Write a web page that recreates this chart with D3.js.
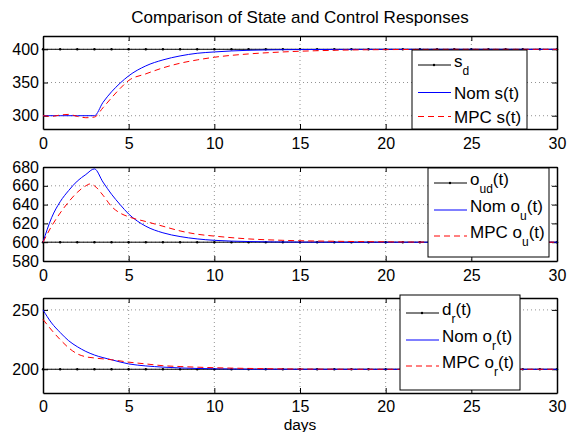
<!DOCTYPE html>
<html>
<head>
<meta charset="utf-8">
<script src="https://cdn.jsdelivr.net/npm/d3@7"></script>
<style>
  body { margin: 0; background: #fff; }
  svg text { font-family: "Liberation Sans", Arial, sans-serif; fill: #000; }
</style>
</head>
<body>
<div id="chart"></div>
<script>
// values, t in days
var tRef = d3.range(0, 31, 1);

var sNomT = [0, 1, 2, 3, 3.5, 4, 4.5, 5, 6, 7, 8, 9, 10, 12, 15, 20, 25, 30];
var sNomV = [300, 300, 300, 300, 320, 336, 349, 360, 375, 384, 390, 394, 396, 398.5, 399.6, 400, 400, 400];
var sMpcT = [0, 0.5, 1, 1.5, 2, 2.5, 3, 3.5, 4, 4.5, 5, 6, 7, 8, 9, 10, 12, 14, 17, 20, 25, 30];
var sMpcV = [300, 299, 301, 302, 299, 297, 298, 312, 327, 341, 353, 363, 372, 379, 384, 388, 393, 396, 398.5, 399.5, 400, 400];

var uNomT = [0, 0.5, 1, 1.5, 2, 2.5, 3, 3.5, 4, 4.5, 5, 6, 7, 8, 9, 10, 12, 15, 20, 25, 30];
var uNomV = [600, 626, 643, 655, 665, 672, 678, 664, 651, 640, 630, 617, 610, 606, 603.5, 602, 600.7, 600.1, 600, 600, 600];
var uMpcT = [0, 0.5, 1, 1.5, 2, 2.5, 2.75, 3, 3.5, 4, 4.5, 5, 6, 7, 8, 9, 10, 12, 14, 17, 20, 25, 30];
var uMpcV = [600, 617, 631, 643, 653, 660, 662, 660, 650, 638, 631, 627, 622, 617, 612, 608.5, 606.5, 603.5, 602, 601, 600.4, 600, 600];

var rNomT = [0, 0.5, 1, 1.5, 2, 2.5, 3, 4, 5, 6, 7, 8, 10, 12, 15, 20, 25, 30];
var rNomV = [250, 239, 231, 224, 219, 215, 212, 208, 204.5, 202.8, 201.8, 201.1, 200.4, 200.1, 200, 200, 200, 200];
var rMpcT = [0, 0.5, 1, 1.5, 2, 2.5, 3, 4, 5, 6, 7, 8, 10, 12, 15, 20, 25, 30];
var rMpcV = [242, 233, 225, 218, 213, 210.5, 209.5, 208, 206, 204.5, 203, 202.3, 201.3, 200.7, 200.2, 200, 200, 200];

var xTicks = [0, 5, 10, 15, 20, 25, 30];

var panels = [
  { top: 36, bottom: 129, domain: [280, 420], ticks: [300, 350, 400], ref: 400,
    nom: [sNomT, sNomV], mpc: [sMpcT, sMpcV],
    labels: [["s", "d", ""], ["Nom s(t)", "", ""], ["MPC s(t)", "", ""]],
    legend: { x: 412, y: 50, w: 115, h: 79, rows: [65, 92.5, 116.5] } },
  { top: 167, bottom: 261, domain: [580, 680], ticks: [580, 600, 620, 640, 660, 680], ref: 600,
    nom: [uNomT, uNomV], mpc: [uMpcT, uMpcV],
    labels: [["o", "ud", "(t)"], ["Nom o", "u", "(t)"], ["MPC o", "u", "(t)"]],
    legend: { x: 428, y: 168, w: 121, h: 89, rows: [183, 210, 236] } },
  { top: 298, bottom: 393, domain: [180, 260], ticks: [200, 250], ref: 200,
    nom: [rNomT, rNomV], mpc: [rMpcT, rMpcV],
    labels: [["d", "r", "(t)"], ["Nom o", "r", "(t)"], ["MPC o", "r", "(t)"]],
    legend: { x: 400, y: 295, w: 120, h: 95, rows: [313, 340, 366] } }
];

var width = 567, height = 432;
var left = 43, right = 557;

var svg = d3.select("#chart").append("svg")
  .attr("width", width)
  .attr("height", height);

var x = d3.scaleLinear().domain([0, 30]).range([left, right]);

svg.append("text")
  .attr("x", 300).attr("y", 22.5)
  .attr("text-anchor", "middle")
  .style("font-size", "17px")
  .text("Comparison of State and Control Responses");

panels.forEach(function (p, pi) {
  var y = d3.scaleLinear().domain(p.domain).range([p.bottom, p.top]);
  var g = svg.append("g");

  // dotted grid
  g.selectAll(".gx").data(xTicks.slice(1, -1)).enter().append("line")
    .attr("x1", d => x(d)).attr("x2", d => x(d))
    .attr("y1", p.top).attr("y2", p.bottom)
    .attr("stroke", "#777").attr("stroke-width", 0.8).attr("stroke-dasharray", "1,3");
  g.selectAll(".gy").data(p.ticks.filter(d => d > p.domain[0] && d < p.domain[1])).enter().append("line")
    .attr("x1", left).attr("x2", right)
    .attr("y1", d => y(d)).attr("y2", d => y(d))
    .attr("stroke", "#777").attr("stroke-width", 0.8).attr("stroke-dasharray", "1,3");

  // axes with inward ticks, box on
  var ax = [
    [d3.axisBottom(x).tickValues(xTicks).tickSizeInner(-5).tickSizeOuter(0).tickPadding(pi === 2 ? 8 : 9), "translate(0," + p.bottom + ")"],
    [d3.axisTop(x).tickValues(xTicks).tickSizeInner(-5).tickSizeOuter(0).tickFormat(""), "translate(0," + p.top + ")"],
    [d3.axisLeft(y).tickValues(p.ticks).tickSizeInner(-5).tickSizeOuter(0).tickPadding(4), "translate(" + left + ",0)"],
    [d3.axisRight(y).tickValues(p.ticks).tickSizeInner(-5).tickSizeOuter(0).tickFormat(""), "translate(" + right + ",0)"]
  ];
  ax.forEach(function (a) {
    var ag = g.append("g").attr("transform", a[1]).call(a[0]);
    ag.select(".domain").attr("stroke", "#000").attr("stroke-width", 1.5);
    ag.selectAll(".tick line").attr("stroke", "#000");
    ag.selectAll("text").style("font-size", "16px").style("font-family", "Liberation Sans, Arial, sans-serif");
  });

  var line = d3.line().x(d => x(d[0])).y(d => y(d[1])).curve(d3.curveMonotoneX);

  // reference (black, dot markers)
  var refData = tRef.map(t => [t, p.ref]);
  g.append("path").datum(refData).attr("d", line)
    .attr("fill", "none").attr("stroke", "#000").attr("stroke-width", 1);
  g.selectAll(".mk").data(refData).enter().append("circle")
    .attr("cx", d => x(d[0])).attr("cy", d => y(d[1])).attr("r", 1.2).attr("fill", "#000");

  g.append("path").datum(d3.zip(p.nom[0], p.nom[1])).attr("d", line)
    .attr("fill", "none").attr("stroke", "#0000ff").attr("stroke-width", 1);
  g.append("path").datum(d3.zip(p.mpc[0], p.mpc[1])).attr("d", line)
    .attr("fill", "none").attr("stroke", "#ff0000").attr("stroke-width", 1)
    .attr("stroke-dasharray", "6,4");

  // legend
  var L = p.legend;
  var lg = svg.append("g");
  lg.append("rect").attr("x", L.x).attr("y", L.y).attr("width", L.w).attr("height", L.h)
    .attr("fill", "#fff").attr("stroke", "#000").attr("stroke-width", 1);
  var styles = [["#000", null], ["#0000ff", null], ["#ff0000", "6,4"]];
  p.labels.forEach(function (lab, i) {
    var ry = L.rows[i];
    var ln = lg.append("line").attr("x1", L.x + 6).attr("x2", L.x + 39)
      .attr("y1", ry).attr("y2", ry)
      .attr("stroke", styles[i][0]).attr("stroke-width", 1);
    if (styles[i][1]) ln.attr("stroke-dasharray", styles[i][1]);
    if (i === 0) lg.append("circle").attr("cx", L.x + 22).attr("cy", ry).attr("r", 1.2).attr("fill", "#000");
    var base = lab[1] ? ry + 2 : ry + 6;
    var tx = lg.append("text").attr("x", L.x + 42).attr("y", base).style("font-size", "17px");
    tx.append("tspan").text(lab[0]);
    if (lab[1]) tx.append("tspan").attr("dy", 8).style("font-size", "12px").text(lab[1]);
    if (lab[2]) tx.append("tspan").attr("dy", -8).text(lab[2]);
  });
});

svg.append("text")
  .attr("x", 300).attr("y", 429.5)
  .attr("text-anchor", "middle")
  .style("font-size", "15.5px")
  .text("days");
</script>
</body>
</html>
